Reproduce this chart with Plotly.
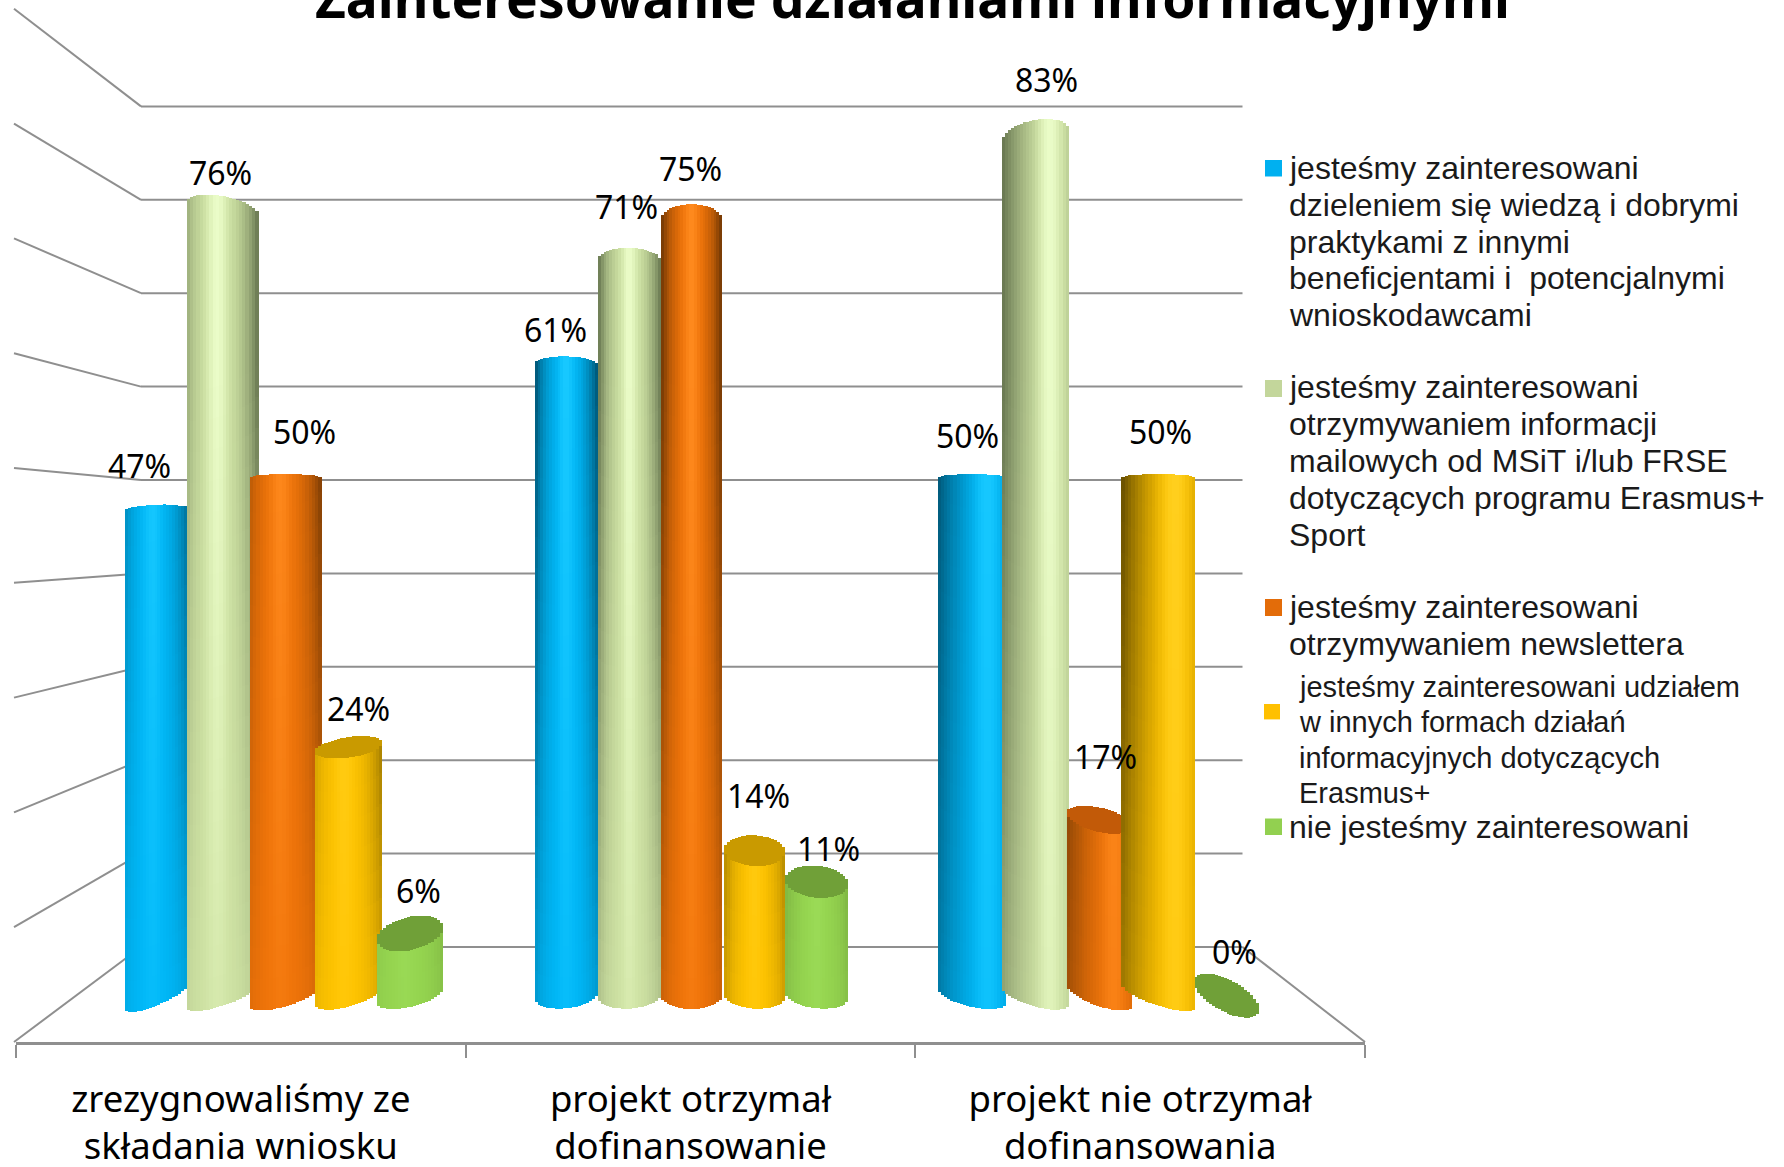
import math
import plotly.graph_objects as go

TITLE = "Zainteresowanie działaniami informacyjnymi"
CATEGORIES = ["zrezygnowaliśmy ze<br>składania wniosku",
              "projekt otrzymał<br>dofinansowanie",
              "projekt nie otrzymał<br>dofinansowania"]
SERIES = ["dzielenie wiedzą", "maile", "newsletter", "inne formy", "nie zainteresowani"]
V_BLUE = [47, 61, 50]
V_LIGHT = [76, 71, 83]
V_ORANGE = [50, 75, 17]
V_YELLOW = [24, 14, 50]
V_GREEN = [6, 11, 0]
VALUES = [V_BLUE, V_LIGHT, V_ORANGE, V_YELLOW, V_GREEN]
GRID_VALUES = [0, 10, 20, 30, 40, 50, 60, 70, 80, 90]
LEGEND_TEXT = [
    ["jesteśmy zainteresowani", "dzieleniem się wiedzą i dobrymi", "praktykami z innymi",
     "beneficjentami i  potencjalnymi", "wnioskodawcami"],
    ["jesteśmy zainteresowani", "otrzymywaniem informacji", "mailowych od MSiT i/lub FRSE",
     "dotyczących programu Erasmus+", "Sport"],
    ["jesteśmy zainteresowani", "otrzymywaniem newslettera"],
    ["jesteśmy zainteresowani udziałem", "w innych formach działań",
     "informacyjnych dotyczących", "Erasmus+"],
    ["nie jesteśmy zainteresowani"],
]

# ---- styles / layout
BASE = ["#00b8f8", "#cfe3a4", "#f07409", "#ffc400", "#96d650"]
HIGH = ["#18c9ff", "#eafcc8", "#ff8a1e", "#ffd020", "#a0e060"]
DARK = ["#00506e", "#66754f", "#6e3604", "#5a4400", "#5f8a30"]
CAP = ["#009ad8", "#b0c488", "#c25a08", "#c99a00", "#70a038"]
LEGEND_COL = ["#00b0f0", "#c3d69b", "#e36c09", "#ffc000", "#92d050"]
W, H = 1784, 1167
PLOT_L, PLOT_R, PLOT_B = 16, 1365, 1042
PX_X = (PLOT_R - PLOT_L) / 3
Y0_PX, PX_Y = 995.6, 10.35
GROUP_STEP, SLOT = 0.9046, 0.1404
BAR_PX = [[64, 72, 72, 67, 66], [63, 63, 61, 61, 63], [68, 67, 65, 74, 64]]
NUDGE_PX = [[0, 2, 2, 2, 0], [2, 2, 1, 1, 0], [1, 1, 2, -2, 3]]
LBL_DX = [[-18, 0, 21, 12, 8], [-9, -1, 0, 5, 12], [-4, 12, 8, 0, 11]]
LBL_DY = [[44, 37, 47, 39, 43], [35, 54, 51, 55, 33], [43, 57, 63, 47, 44]]
HILITE = [-0.15, 0.0, 0.45]
SHADE_FLOOR = [0.25, 0.3, 0.6]
DARK_POW = [2.4, 2.4, 1.6]
N_STRIPS, STEP = 22, 3.0


def rgb(h):
    return [int(h[i:i + 2], 16) for i in (1, 3, 5)]


def mix(a, b, f):
    return [a[i] * (1 - f) + b[i] * f for i in range(3)]


def css(c):
    return "rgb(%d,%d,%d)" % tuple(round(v) for v in c)


def shade(s, t, g, y):
    fl = SHADE_FLOOR[g]
    st = min(1.0, max(fl, fl + (1 - fl) * y / 60))
    h = HILITE[g]
    dist = abs(t - h) / (1 + abs(h))
    c = mix(rgb(BASE[s]), rgb(DARK[s]), dist ** DARK_POW[g] * st)
    return mix(c, rgb(HIGH[s]), math.exp(-(dist / 0.22) ** 2) * st)


fig = go.Figure()
for s, name in enumerate(SERIES):
    xs, bases, hs, ws, cols = [], [], [], [], []
    for g, v in enumerate(VALUES[s]):
        cx = 1 + (g - 1) * GROUP_STEP + (s - 2) * SLOT + NUDGE_PX[g][s] / PX_X
        off = cx - 1
        half = BAR_PX[g][s] / PX_X / 2
        sw = 2 * half / N_STRIPS
        d_b = 1.3 - 0.3 * abs(off)
        tilt_b = -1.1 * off
        rate = 0.045 if v > 50 else 0.033
        d_t = max(0.4, 0.33 + rate * abs(v - 50) - 0.25 * abs(off))
        tilt_t = -1.1 * off * (50 - v) / 50
        for i in range(N_STRIPS):
            t = -1 + (2 * i + 1) / N_STRIPS
            root = math.sqrt(1 - t * t)
            yb = tilt_b * t - d_b * root
            lo = v + tilt_t * t - d_t * root
            hi = v + tilt_t * t + d_t * root
            x = cx + t * half
            top = hi if v >= 45 else lo
            if v > 0:
                y = yb
                while y < top - 1e-6:
                    y2 = min(top, y + STEP)
                    xs.append(x); bases.append(y); hs.append(y2 - y); ws.append(sw * 1.02)
                    cols.append(css(shade(s, t, g, (y + y2) / 2)))
                    y = y2
            if v < 45:
                xs.append(x); bases.append(lo); hs.append(hi - lo); ws.append(sw * 1.02)
                cols.append(CAP[s])
    fig.add_trace(go.Bar(x=xs, y=hs, base=bases, width=ws, name=name, showlegend=False,
                         hoverinfo="skip", marker=dict(color=cols, line=dict(width=0))))

annotations = []
LABEL_FONT = dict(family="Noto Sans", size=32, color="#000000")
for s in range(5):
    for g, v in enumerate(VALUES[s]):
        annotations.append(dict(x=1 + (g - 1) * GROUP_STEP + (s - 2) * SLOT, y=v, xref="x", yref="y",
                                text=f"{v}%", showarrow=False, font=LABEL_FONT,
                                xshift=LBL_DX[g][s], yshift=LBL_DY[g][s],
                                xanchor="center", yanchor="middle"))


def px(x):
    return (x - PLOT_L) / (PLOT_R - PLOT_L)


def py(y):
    return 1 - y / PLOT_B


annotations.append(dict(xref="paper", yref="paper", x=px(912), y=py(-2), text=f"<b>{TITLE}</b>",
                        showarrow=False, xanchor="center", yanchor="middle",
                        font=dict(family="Noto Sans", size=53.3, color="#000000")))

LEG_X = [1288, 1288, 1288, 1297.5, 1288]
LEG_Y = [168, 387.5, 607, 687, 827]
LEG_SIZE = [32, 32, 32, 29, 32]
LEG_STEP = [36.8, 36.8, 36.8, 35.3, 36.8]
SQ = [(1265, 1282, 160, 176.5), (1265, 1282, 380, 397), (1265, 1282, 599, 616),
      (1264, 1280, 704, 719.4), (1265, 1282, 818.5, 835)]
shapes = []
for i, lines in enumerate(LEGEND_TEXT):
    for j, line in enumerate(lines):
        annotations.append(dict(xref="paper", yref="paper", x=px(LEG_X[i]), y=py(LEG_Y[i] + j * LEG_STEP[i]),
                                text=line, showarrow=False, xanchor="left", yanchor="middle", borderpad=0,
                                font=dict(family="Liberation Sans", size=LEG_SIZE[i], color="#1a1a1a")))
    x0, x1, y0, y1 = SQ[i]
    shapes.append(dict(type="rect", xref="paper", yref="paper", x0=px(x0), x1=px(x1), y0=py(y0), y1=py(y1),
                       fillcolor=LEGEND_COL[i], line=dict(width=0)))

# perspective walls: back wall and left side wall, one line per axis value
GRID_COL = "#8f8f8f"
BACK_L, BACK_R, FRONT_L = 141, 1242.5, 14
for v in GRID_VALUES:
    yb = 947 - 9.34 * v
    yf = 1042 - 11.48 * v
    shapes.append(dict(type="line", layer="below", xref="paper", yref="paper", x0=px(BACK_L), x1=px(BACK_R),
                       y0=py(yb), y1=py(yb), line=dict(color=GRID_COL, width=2)))
    shapes.append(dict(type="line", layer="below", xref="paper", yref="paper", x0=px(FRONT_L), x1=px(BACK_L),
                       y0=py(yf), y1=py(yb), line=dict(color=GRID_COL, width=2)))
shapes.append(dict(type="line", layer="below", xref="paper", yref="paper", x0=px(BACK_R), x1=px(PLOT_R),
                   y0=py(947), y1=py(PLOT_B), line=dict(color=GRID_COL, width=2)))

fig.update_layout(
    width=W, height=H, margin=dict(l=PLOT_L, r=W - PLOT_R, t=0, b=H - PLOT_B, autoexpand=False),
    barmode="overlay", bargap=0, paper_bgcolor="#ffffff", plot_bgcolor="rgba(0,0,0,0)",
    showlegend=False, shapes=shapes, annotations=annotations,
    xaxis=dict(range=[-0.5, 2.5], tickmode="array", tickvals=[0, 1, 2], ticktext=CATEGORIES,
               automargin=False, ticks="", showgrid=False, zeroline=False, showline=True,
               linecolor=GRID_COL, linewidth=3,
               ticklabelstandoff=23, tickfont=dict(family="Noto Sans", size=36.5, color="#000000"),
               minor=dict(tickvals=[-0.5, 0.5, 1.5, 2.5], ticks="outside", ticklen=13, tickwidth=2,
                          tickcolor=GRID_COL, showgrid=False)),
    yaxis=dict(range=[(Y0_PX - PLOT_B) / PX_Y, Y0_PX / PX_Y], visible=False),
)
fig.write_html("out.html", config=dict(displayModeBar=False),
               post_script="document.body.style.margin='0';document.body.style.overflow='hidden';")
